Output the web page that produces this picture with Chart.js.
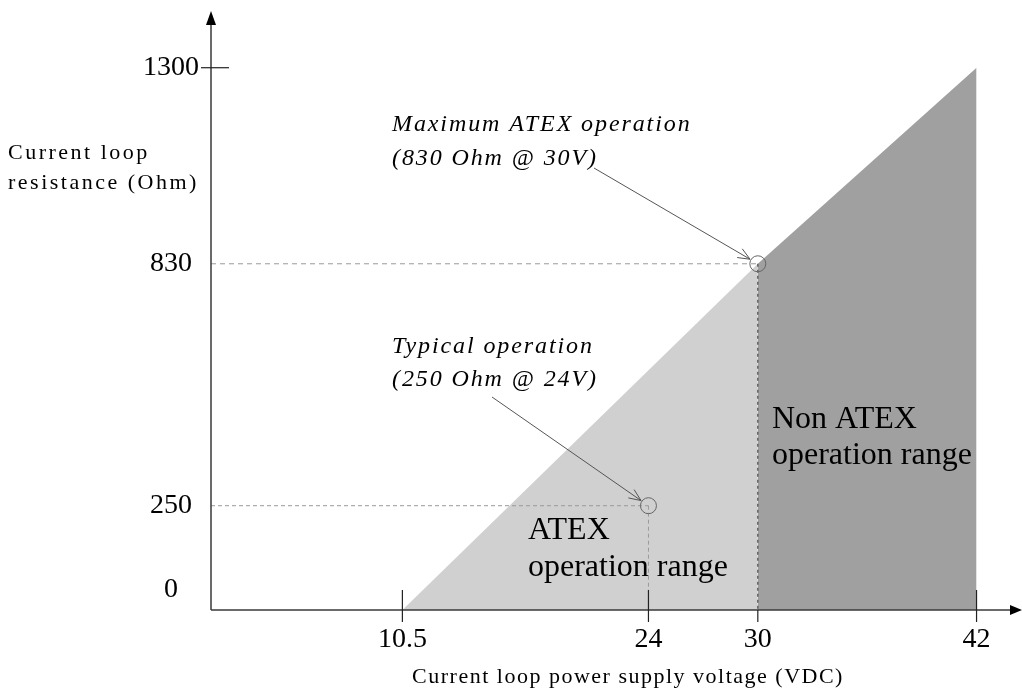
<!DOCTYPE html>
<html>
<head>
<meta charset="utf-8">
<script src="https://cdn.jsdelivr.net/npm/chart.js@4.4.1/dist/chart.umd.min.js"></script>
<style>
  html, body { margin: 0; padding: 0; background: #fff; }
  #wrap { width: 1022px; height: 693px; position: relative; }
</style>
</head>
<body>
<div id="wrap"><canvas id="loopChart"></canvas></div>
<script>
// values
const voltTicks = [10.5, 24, 30, 42];
const ohmTicks = [0, 250, 830, 1300];
const atexVolts = [10.5, 30];
const atexOhms = [0, 830];
const nonAtexVolts = [30, 42];
const nonAtexOhms = [830, 1300];
const typicalPoint = { x: 24, y: 250 };
const maxAtexPoint = { x: 30, y: 830 };

const serif = "'Liberation Serif', 'Times New Roman', serif";

const pts = (xs, ys) => xs.map((v, i) => ({ x: v, y: ys[i] }));

function arrow(ctx, x0, y0, x1, y1) {
  const ang = Math.atan2(y1 - y0, x1 - x0);
  ctx.beginPath();
  ctx.moveTo(x0, y0);
  ctx.lineTo(x1, y1);
  ctx.moveTo(x1 - 13 * Math.cos(ang - 0.4), y1 - 13 * Math.sin(ang - 0.4));
  ctx.lineTo(x1, y1);
  ctx.lineTo(x1 - 13 * Math.cos(ang + 0.4), y1 - 13 * Math.sin(ang + 0.4));
  ctx.stroke();
}

const overlay = {
  id: "overlay",
  afterDraw(chart) {
    const { ctx, chartArea: a, scales: { x, y } } = chart;
    ctx.save();

    // axes with arrow heads
    ctx.strokeStyle = "#3a3a3a";
    ctx.lineWidth = 1.5;
    ctx.beginPath();
    ctx.moveTo(a.left, a.bottom);
    ctx.lineTo(1012, a.bottom);
    ctx.moveTo(a.left, a.bottom);
    ctx.lineTo(a.left, 22);
    ctx.stroke();
    ctx.fillStyle = "#000";
    ctx.beginPath();
    ctx.moveTo(1022, a.bottom);
    ctx.lineTo(1010, a.bottom - 5);
    ctx.lineTo(1010, a.bottom + 5);
    ctx.fill();
    ctx.beginPath();
    ctx.moveTo(a.left, 11);
    ctx.lineTo(a.left - 5, 25);
    ctx.lineTo(a.left + 5, 25);
    ctx.fill();

    // x ticks and labels
    ctx.lineWidth = 1.2;
    ctx.strokeStyle = "#222";
    ctx.font = "28px " + serif;
    ctx.textAlign = "center";
    ctx.textBaseline = "middle";
    voltTicks.forEach(v => {
      const px = x.getPixelForValue(v);
      ctx.beginPath();
      ctx.moveTo(px, v === maxAtexPoint.x ? a.bottom : a.bottom - 20);
      ctx.lineTo(px, a.bottom + 12);
      ctx.stroke();
      ctx.fillText(String(v), px, 640);
    });

    // y labels, only the top one has a tick
    ohmTicks.forEach(v => {
      const py = y.getPixelForValue(v);
      if (v === ohmTicks[ohmTicks.length - 1]) {
        ctx.beginPath();
        ctx.moveTo(a.left - 10, py);
        ctx.lineTo(a.left + 18, py);
        ctx.stroke();
      }
      ctx.fillText(String(v), 171, Math.min(py, a.bottom - 20));
    });

    // axis titles
    ctx.font = "22px " + serif;
    ctx.letterSpacing = "1.5px";
    ctx.fillText("Current loop power supply voltage (VDC)", 628, 677);
    ctx.textAlign = "left";
    ctx.letterSpacing = "2.5px";
    ctx.fillText("Current loop", 8, 153);
    ctx.fillText("resistance (Ohm)", 8, 183);

    // annotations
    ctx.font = "italic 24px " + serif;
    ctx.letterSpacing = "1.9px";
    ctx.fillText("Maximum ATEX operation", 392, 125);
    ctx.fillText("(830 Ohm @ 30V)", 392, 159);
    ctx.fillText("Typical operation", 392, 347);
    ctx.fillText("(250 Ohm @ 24V)", 392, 380);
    ctx.letterSpacing = "0px";

    ctx.strokeStyle = "#555";
    ctx.lineWidth = 1;
    [[594, 168, maxAtexPoint], [492, 397, typicalPoint]].forEach(([sx, sy, p]) => {
      const ex = x.getPixelForValue(p.x), ey = y.getPixelForValue(p.y);
      const d = Math.hypot(ex - sx, ey - sy);
      arrow(ctx, sx, sy, ex - (ex - sx) * 9 / d, ey - (ey - sy) * 9 / d);
    });

    // region labels
    ctx.fillStyle = "#000";
    ctx.font = "32px " + serif;
    ctx.fillText("Non ATEX", 772, 420);
    ctx.fillText("operation range", 772, 456);
    ctx.fillText("ATEX", 528, 531);
    ctx.fillText("operation range", 528, 568);

    ctx.restore();
  }
};

const guide = (data, color, dash) => ({
  data, showLine: true, borderColor: color, borderWidth: 1,
  borderDash: dash, pointRadius: 0, fill: false, order: 1
});

new Chart(document.getElementById("loopChart"), {
  type: "scatter",
  data: {
    datasets: [
      {
        label: "markers",
        data: [maxAtexPoint, typicalPoint],
        pointRadius: 8,
        pointBorderColor: "#666",
        pointBorderWidth: 1,
        pointBackgroundColor: "rgba(0,0,0,0)",
        showLine: false,
        order: 0
      },
      guide([{ x: 0, y: maxAtexPoint.y }, maxAtexPoint], "#9a9a9a", [5, 4]),
      guide([maxAtexPoint, { x: maxAtexPoint.x, y: 0 }], "#333", [3, 3]),
      guide([{ x: 0, y: typicalPoint.y }, typicalPoint], "#9a9a9a", [4, 3]),
      guide([typicalPoint, { x: typicalPoint.x, y: 0 }], "#9a9a9a", [4, 3]),
      {
        label: "ATEX operation range",
        data: pts(atexVolts, atexOhms),
        showLine: true,
        borderWidth: 0,
        pointRadius: 0,
        backgroundColor: "#d0d0d0",
        fill: "origin",
        order: 2
      },
      {
        label: "Non ATEX operation range",
        data: pts(nonAtexVolts, nonAtexOhms),
        showLine: true,
        borderWidth: 0,
        pointRadius: 0,
        backgroundColor: "#a0a0a0",
        fill: "origin",
        order: 2
      }
    ]
  },
  options: {
    responsive: true,
    maintainAspectRatio: false,
    animation: false,
    layout: { padding: { left: 211, right: 8, top: 26, bottom: 83 } },
    plugins: { legend: { display: false }, tooltip: { enabled: false } },
    scales: {
      x: { type: "linear", min: 0, max: 44, display: false },
      y: { type: "linear", min: 0, max: 1400, display: false }
    }
  },
  plugins: [overlay]
});
</script>
</body>
</html>
